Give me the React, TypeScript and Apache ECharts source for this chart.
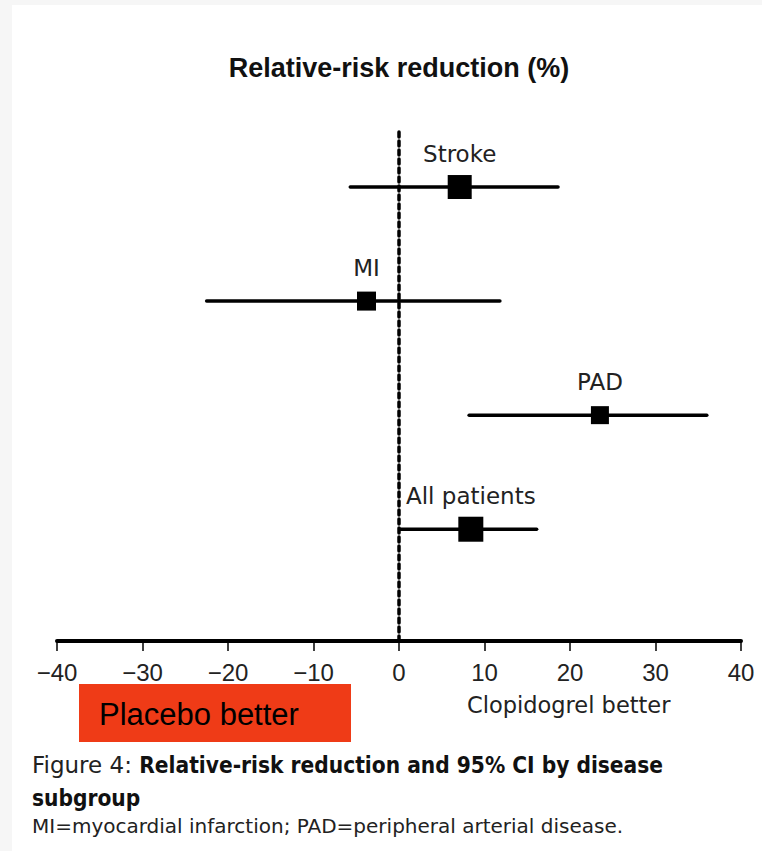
import React, { useEffect, useRef } from "react";
import * as echarts from "echarts";

// ---- data ----
const categories = ["Stroke", "MI", "PAD", "All patients"];
const estimates = [7.1, -3.8, 23.5, 8.4];
const lowerCI = [-5.7, -22.5, 8.2, 0.1];
const upperCI = [18.6, 11.8, 36.0, 16.1];
const xTicks = [-40, -30, -20, -10, 0, 10, 20, 30, 40];
const referenceValue = 0;

// ---- styles ----
const squareSizes = [24, 19, 18, 25];
const TEXT = "#222";
const LIGHT_FONT = "DejaVu Sans";
const BOLD_FONT = "DejaVu Sans Condensed";

export default function App() {
  const ref = useRef<HTMLDivElement>(null);

  useEffect(() => {
    if (!ref.current) return;
    const chart = echarts.init(ref.current, undefined, { renderer: "svg" });
    const n = categories.length;
    const rows = categories.map((name, i) => [lowerCI[i], upperCI[i], estimates[i], n - i, name]);

    const option: any = {
      animation: false,
      backgroundColor: "transparent",
      grid: { left: 57, right: 21, top: 130, bottom: 210 },
      xAxis: {
        type: "value",
        min: xTicks[0],
        max: xTicks[xTicks.length - 1],
        interval: 10,
        splitLine: { show: false },
        axisLine: { show: true, lineStyle: { color: "#000", width: 4, cap: "round" } },
        axisTick: { show: true, length: 10, lineStyle: { color: "#000", width: 1.5 } },
        axisLabel: {
          margin: 19,
          color: TEXT,
          fontFamily: "Liberation Sans",
          fontSize: 24,
          formatter: (v: number) => (v < 0 ? "\u2212" + Math.abs(v) : String(v)),
        },
      },
      yAxis: { type: "value", min: 0.02, max: 4.5, show: false },
      series: [
        {
          type: "line",
          data: [[referenceValue, 0.02], [referenceValue, 4.5]],
          showSymbol: false,
          silent: true,
          lineStyle: { color: "#000", width: 3.5, type: [5, 4], cap: "round" },
          z: 1,
        },
        {
          type: "custom",
          data: rows,
          z: 3,
          renderItem: (params: any, api: any) => {
            const lo = api.coord([api.value(0), api.value(3)]);
            const hi = api.coord([api.value(1), api.value(3)]);
            const c = api.coord([api.value(2), api.value(3)]);
            const s = squareSizes[params.dataIndex];
            return {
              type: "group",
              children: [
                {
                  type: "line",
                  shape: { x1: lo[0], y1: lo[1], x2: hi[0], y2: hi[1] },
                  style: { stroke: "#000", lineWidth: 3.5, lineCap: "round" },
                },
                {
                  type: "rect",
                  shape: { x: c[0] - s / 2, y: c[1] - s / 2, width: s, height: s },
                  style: { fill: "#000" },
                },
                {
                  type: "text",
                  style: {
                    text: categories[params.dataIndex],
                    x: c[0],
                    y: c[1] - 33,
                    align: "center",
                    verticalAlign: "middle",
                    fontFamily: LIGHT_FONT,
                    fontSize: 23,
                    fill: TEXT,
                  },
                },
              ],
            };
          },
        },
      ],
      graphic: [
        {
          type: "rect",
          z: -10,
          shape: { x: 12, y: 5, width: 750, height: 846 },
          style: { fill: "#fff" },
        },
        {
          type: "text",
          style: {
            text: "Relative-risk reduction (%)",
            x: 399,
            y: 68,
            align: "center",
            verticalAlign: "middle",
            fontFamily: "Liberation Sans",
            fontWeight: "bold",
            fontSize: 27,
            fill: "#111",
          },
        },
        {
          type: "rect",
          shape: { x: 79, y: 684, width: 272, height: 58 },
          style: { fill: "#ef3b17" },
        },
        {
          type: "text",
          style: {
            text: "Placebo better",
            x: 99,
            y: 714,
            verticalAlign: "middle",
            fontFamily: "Liberation Sans",
            fontSize: 31,
            fill: "#000",
          },
        },
        {
          type: "text",
          style: {
            text: "Clopidogrel better",
            x: 467,
            y: 705,
            verticalAlign: "middle",
            fontFamily: LIGHT_FONT,
            fontSize: 22.5,
            fill: TEXT,
          },
        },
        {
          type: "text",
          style: {
            text: "{r|Figure 4: }{b|Relative-risk reduction and 95% CI by disease}",
            x: 32,
            y: 765,
            verticalAlign: "middle",
            rich: {
              r: { fontFamily: LIGHT_FONT, fontSize: 23, fill: TEXT, color: TEXT },
              b: { fontFamily: BOLD_FONT, fontWeight: "bold", fontSize: 22.5, fill: "#111", color: "#111" },
            },
          },
        },
        {
          type: "text",
          style: {
            text: "subgroup",
            x: 32,
            y: 798,
            verticalAlign: "middle",
            fontFamily: BOLD_FONT,
            fontWeight: "bold",
            fontSize: 22.5,
            fill: "#111",
          },
        },
        {
          type: "text",
          style: {
            text: "MI=myocardial infarction; PAD=peripheral arterial disease.",
            x: 32,
            y: 826,
            verticalAlign: "middle",
            fontFamily: LIGHT_FONT,
            fontSize: 20,
            fill: TEXT,
          },
        },
      ],
    };

    chart.setOption(option);
    return () => chart.dispose();
  }, []);

  return (
    <div style={{ position: "fixed", left: 0, top: 0, width: 762, height: 851, background: "#f6f6f6" }}>
      <div ref={ref} style={{ width: 762, height: 851 }} />
    </div>
  );
}
